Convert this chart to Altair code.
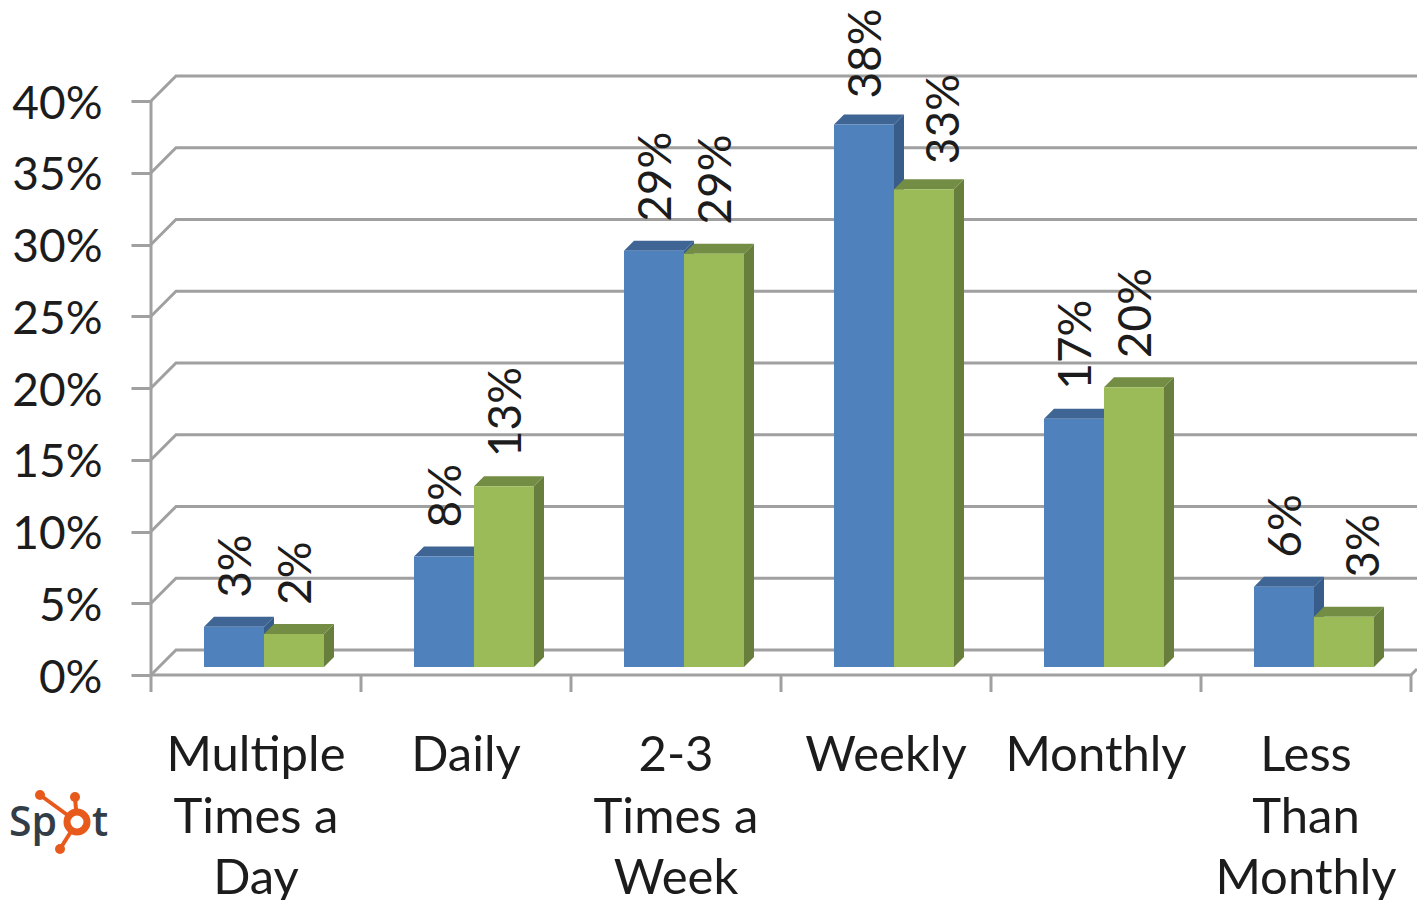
import altair as alt
import pandas as pd

categories = ["Multiple\nTimes a\nDay", "Daily", "2-3\nTimes a\nWeek", "Weekly", "Monthly", "Less\nThan\nMonthly"]
series_a = [2.8, 7.7, 29.0, 37.8, 17.3, 5.6]
series_b = [2.3, 12.6, 28.8, 33.3, 19.5, 3.5]
labels_a = ["3%", "8%", "29%", "38%", "17%", "6%"]
labels_b = ["2%", "13%", "29%", "33%", "20%", "3%"]
y_ticks = [0, 5, 10, 15, 20, 25, 30, 35, 40]

FONT = "Lato"
TXT = "#1c1c1c"
GRID = "#a0a0a0"
W, H = 1409, 892
X0, Y0 = 151.0, 675.0      # image position of the axis origin
STEP, PCT = 210.0, 14.35   # pixels per category, pixels per percent


def ux(px):
    return (px - X0) / STEP


def uy(py):
    return (Y0 - py) / PCT


xs = alt.Scale(domain=[ux(8), ux(8 + W)], nice=False, zero=False)
ys = alt.Scale(domain=[uy(8 + H), uy(8)], nice=False, zero=False)
Y_AXIS = alt.Axis(
    orient="left", offset=-(X0 - 8), values=y_ticks, domain=False, grid=False, title=None,
    labelExpr="datum.value + '%'", labelFont=FONT, labelFontSize=46, labelColor=TXT,
    labelPadding=29, labelOffset=3, tickSize=20, tickColor=GRID, tickWidth=3, labelBaseline="middle")
X = lambda f="x": alt.X(f"{f}:Q", scale=xs, axis=None)
Y = lambda f="y": alt.Y(f"{f}:Q", scale=ys, axis=Y_AXIS, stack=None)

# Walls: gridlines run back along the side wall, then along the back wall
grid_rows = []
for t in y_ticks:
    grid_rows += [
        {"g": t, "o": 0, "x": 0, "y": t},
        {"g": t, "o": 1, "x": ux(X0 + 25), "y": t + 25 / PCT},
        {"g": t, "o": 2, "x": ux(8 + W), "y": t + 25 / PCT},
    ]
grid = alt.Chart(pd.DataFrame(grid_rows)).mark_line(color=GRID, strokeWidth=3, clip=True).encode(
    x=X(), y=Y(), detail="g:N", order="o:Q")

frame_rows = [
    {"g": "left", "o": 0, "x": 0, "y": 40},
    {"g": "left", "o": 1, "x": 0, "y": uy(692)},
    {"g": "floor", "o": 0, "x": 0, "y": 0},
    {"g": "floor", "o": 1, "x": 6, "y": 0},
    {"g": "floor", "o": 2, "x": ux(8 + W), "y": (8 + W - X0 - 6 * STEP) / PCT},
]
for k in range(1, 7):
    frame_rows += [{"g": f"t{k}", "o": 0, "x": k, "y": 0}, {"g": f"t{k}", "o": 1, "x": k, "y": uy(692)}]
frame = alt.Chart(pd.DataFrame(frame_rows)).mark_line(color=GRID, strokeWidth=3).encode(
    x=X(), y=Y(), detail="g:N", order="o:Q")

BAR_W, DEPTH = 60.0, 10.0
BASE = uy(667)
GAP = 19.0
LABEL_SHIFT = 3.0
# Labels placed apart from the common rule in the reference: (right px, up px)
MOVED_A = {3: (0, -3)}
MOVED_B = {3: (18, -4), 5: (18, 10)}


def bars(values, labels, shift, front, top_c, side_c, moved):
    left = [ux(X0 + 53 + shift) + i for i in range(len(values))]
    right = [l + BAR_W / STEP for l in left]
    dx, dy = DEPTH / STEP, DEPTH / PCT
    rects = pd.DataFrame({"x": left, "x2": right, "y": BASE, "y2": [BASE + v for v in values]})
    side_rows, top_rows = [], []
    for i, v in enumerate(values):
        h = BASE + v
        side_rows += [
            {"g": i, "x": right[i], "lo": BASE, "hi": h},
            {"g": i, "x": right[i] + dx, "lo": BASE + dy, "hi": h + dy},
        ]
        top_rows += [
            {"g": i, "x": left[i], "lo": h, "hi": h},
            {"g": i, "x": left[i] + dx, "lo": h, "hi": h + dy},
            {"g": i, "x": right[i], "lo": h, "hi": h + dy},
            {"g": i, "x": right[i] + dx, "lo": h + dy, "hi": h + dy},
        ]
    side = alt.Chart(pd.DataFrame(side_rows)).mark_area(color=side_c).encode(
        x=X(), y=Y("lo"), y2="hi:Q", detail="g:N")
    top = alt.Chart(pd.DataFrame(top_rows)).mark_area(color=top_c).encode(
        x=X(), y=Y("lo"), y2="hi:Q", detail="g:N")
    rect = alt.Chart(rects).mark_rect(color=front).encode(x=X(), x2="x2:Q", y=Y(), y2="y2:Q")
    text = alt.Chart(pd.DataFrame({
        "x": [l + (BAR_W / 2 + LABEL_SHIFT + moved.get(i, (0, 0))[0]) / STEP for i, l in enumerate(left)],
        "y": [BASE + v + dy + (GAP + moved.get(i, (0, 0))[1]) / PCT for i, v in enumerate(values)],
        "t": labels,
    })).mark_text(angle=270, align="left", baseline="middle", font=FONT, fontSize=46, color=TXT).encode(
        x=X(), y=Y(), text="t:N")
    return side, top, rect, text


a = bars(series_a, labels_a, 0, "#4f81bd", "#3e6594", "#385d8a", MOVED_A)
b = bars(series_b, labels_b, 60, "#9bbb59", "#738d45", "#677e3c", MOVED_B)

cat_text = alt.Chart(pd.DataFrame({
    "x": [i + ux(X0 + 105) for i in range(6)],
    "y": uy(771),
    "t": categories,
})).mark_text(align="center", baseline="alphabetic", font=FONT, fontSize=49, color=TXT,
              lineBreak="\n", lineHeight=61.5).encode(x=X(), y=Y(), text="t:N")

# Logo fragment at the lower left
logo_sp = alt.Chart(pd.DataFrame({"x": [ux(57)], "y": [uy(836)], "t": ["Sp"]})).mark_text(
    align="right", baseline="alphabetic", font="Open Sans", fontWeight=600, fontSize=41, color="#333d47"
).encode(x=X(), y=Y(), text="t:N")
logo_t = alt.Chart(pd.DataFrame({"x": [ux(92)], "y": [uy(836)], "t": ["t"]})).mark_text(
    align="left", baseline="alphabetic", font="Open Sans", fontWeight=600, fontSize=41, color="#333d47"
).encode(x=X(), y=Y(), text="t:N")

arm_rows = []
for g, (px, py) in enumerate([(40, 795), (75, 797), (60, 849)]):
    arm_rows += [{"g": g, "o": 0, "x": ux(77), "y": uy(822)}, {"g": g, "o": 1, "x": ux(px), "y": uy(py)}]
arms = alt.Chart(pd.DataFrame(arm_rows)).mark_line(color="#e8591c", strokeWidth=4).encode(
    x=X(), y=Y(), detail="g:N", order="o:Q")
dots = alt.Chart(pd.DataFrame({"x": [ux(40), ux(75), ux(60)], "y": [uy(795), uy(797), uy(849)]})).mark_point(
    filled=True, color="#e8591c", opacity=1, size=100).encode(x=X(), y=Y())
ring_fill = alt.Chart(pd.DataFrame({"x": [ux(77)], "y": [uy(822)]})).mark_point(
    filled=True, color="white", opacity=1, size=450).encode(x=X(), y=Y())
ring = alt.Chart(pd.DataFrame({"x": [ux(77)], "y": [uy(822)]})).mark_point(
    filled=False, color="#e8591c", opacity=1, size=400, strokeWidth=7).encode(x=X(), y=Y())

chart = alt.layer(
    grid, frame, a[0], a[1], a[2], b[0], b[1], b[2], a[3], b[3], cat_text,
    logo_sp, logo_t, arms, dots, ring_fill, ring,
).properties(
    width=W, height=H, padding=0, autosize=alt.AutoSizeParams(type="none"),
    background="white",
).configure_view(stroke=None)

chart.save("out.html", embed_options={"renderer": "svg", "actions": False})
